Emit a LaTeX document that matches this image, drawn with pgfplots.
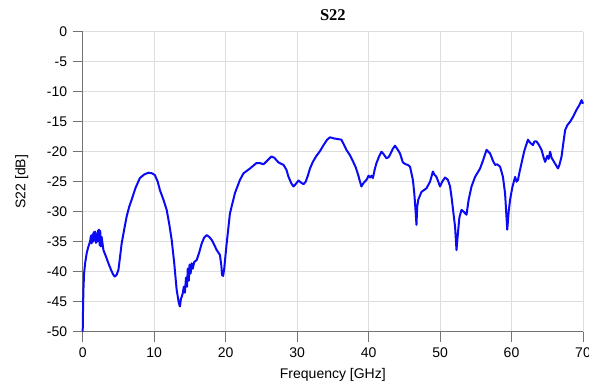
\documentclass[border=0pt]{standalone}
\usepackage{pgfplots}
\pgfplotsset{compat=1.18}
\usepackage{fontspec}
\setmainfont{Liberation Sans}
\newfontfamily\serifbf{Liberation Serif}
\begin{document}
\begin{tikzpicture}
\begin{axis}[
  at={(0,0)}, anchor=south west,
  scale only axis, width=500.3bp, height=300bp,
  xmin=0, xmax=70, ymin=-50, ymax=0,
  xtick distance=10, ytick distance=5,
  axis x line*=bottom, axis y line*=left,
  axis line style={draw=black!55, line width=0.8bp, -},
  tick align=outside, major tick length=10bp,
  tick style={draw=black!55, line width=0.8bp},
  grid=major, grid style={draw=black!13, line width=0.8bp},
  /pgf/number format/assume math mode=true,
  tick label style={font=\fontsize{14bp}{16bp}\selectfont, text=black},
  xticklabel style={yshift=-3bp},
  yticklabel style={/pgf/number format/fixed, xshift=-2bp},
  title={\serifbf\bfseries S22},
  title style={at={(axis description cs:0.5,1.037)}, anchor=center, font=\fontsize{16.5bp}{18bp}\selectfont},
  xlabel={Frequency [GHz]},
  ylabel={S22 [dB]},
  xlabel style={at={(axis description cs:0.5,-0.1443)}, anchor=center, font=\fontsize{14bp}{16bp}\selectfont},
  ylabel style={at={(axis description cs:-0.122,0.5)}, anchor=center, font=\fontsize{14bp}{16bp}\selectfont},
  clip=false,
]
\addplot[color={rgb,255:red,10;green,10;blue,245}, line width=2bp, line join=round] coordinates {
(0,-50) (0.05,-46) (0.1,-43) (0.19,-40.3) (0.35,-38.5) (0.56,-36.9) (0.8,-35.8) (1.03,-35.0)
(1.15,-34.0) (1.25,-35.3) (1.35,-33.8) (1.45,-35.0) (1.55,-33.4) (1.65,-34.8) (1.75,-33.3)
(1.85,-35.2) (1.95,-33.8) (2.05,-35.0) (2.15,-33.2) (2.28,-33.0) (2.38,-35.6) (2.45,-33.2)
(2.55,-35.8) (2.65,-34.2) (2.9,-36.4) (3.2,-37.3) (3.6,-38.6) (4.0,-39.8) (4.3,-40.55)
(4.5,-40.8) (4.75,-40.5) (5.0,-39.7) (5.2,-37.8) (5.45,-35.3) (5.8,-33) (6.15,-30.8)
(6.5,-29.2) (6.85,-28) (7.4,-26) (8.0,-24.4) (8.6,-23.8) (9.2,-23.5) (9.7,-23.6) (10.1,-23.9)
(10.5,-25.0) (10.8,-26.4) (11.3,-28) (11.75,-29.7) (12.1,-32) (12.45,-34.7) (12.8,-38.5)
(13.15,-43.05) (13.45,-45.2) (13.6,-45.8) (13.75,-44.5) (13.85,-44.2) (14.0,-43.6)
(14.15,-42.5) (14.3,-43.5) (14.45,-41) (14.6,-42.5) (14.7,-39.5) (14.85,-41.5) (14.95,-38.8)
(15.1,-40.3) (15.25,-38.6) (15.4,-39.5) (15.6,-38.4) (15.95,-38.05) (16.3,-36.8) (16.65,-35.3)
(17.0,-34.3) (17.35,-33.9) (17.7,-34.2) (18.05,-34.7) (18.4,-35.5) (18.75,-36.4) (19.2,-37.2)
(19.4,-39) (19.5,-40.55) (19.65,-40.7) (19.8,-39.5) (20.1,-35.8) (20.6,-30.3) (21.3,-26.9)
(22.0,-24.7) (22.5,-23.6) (23.4,-22.8) (24.3,-21.9) (24.8,-21.9) (25.3,-22.1) (25.9,-21.4)
(26.4,-20.8) (26.8,-21) (27.4,-21.8) (28.1,-22.2) (28.5,-23) (28.8,-24.2) (29.2,-25.3)
(29.5,-25.8) (29.8,-25.4) (30.2,-24.8) (30.6,-25.2) (30.9,-25.4) (31.2,-25.0) (31.5,-24)
(31.8,-22.8) (32.2,-21.7) (32.7,-20.7) (33.2,-19.9) (33.7,-18.9) (34.2,-18.0) (34.6,-17.6)
(35.2,-17.8) (35.75,-17.9) (36.2,-18.0) (36.5,-18.7) (36.9,-19.7) (37.4,-20.6) (37.85,-21.7)
(38.2,-22.6) (38.55,-23.9) (38.8,-25) (39.0,-25.8) (39.3,-25.2) (39.7,-24.7) (40.0,-24.0)
(40.2,-24.3) (40.4,-24.0) (40.6,-24.4) (40.85,-23) (41.1,-21.9) (41.5,-20.7) (41.8,-20.0)
(42.1,-20.4) (42.5,-21.1) (42.8,-20.9) (43.0,-20.5) (43.4,-19.5) (43.7,-19.0) (44.1,-19.7)
(44.4,-20.3) (44.8,-21.8) (45.2,-22.1) (45.5,-22.2) (45.8,-22.5) (46.0,-23.6) (46.2,-24.7)
(46.4,-27) (46.6,-30.3) (46.7,-32.2) (46.8,-29.2) (46.95,-28) (47.4,-26.7) (48.1,-26.1)
(48.6,-25.0) (49.0,-23.3) (49.2,-23.8) (49.5,-24.2) (50.0,-25.8) (50.3,-25.0) (50.7,-24.3)
(51.1,-24.7) (51.4,-25.8) (51.6,-27.5) (51.85,-30) (52.1,-32.5) (52.3,-36.4) (52.5,-33.6)
(52.7,-31) (53.0,-29.7) (53.3,-30) (53.7,-30.5) (54.0,-28) (54.4,-25.8) (54.9,-24.2)
(55.6,-22.8) (56.0,-21.5) (56.5,-19.7) (57.0,-20.3) (57.4,-21.5) (57.7,-22.2) (58.0,-22.1)
(58.4,-22.5) (58.8,-24.2) (59.1,-27) (59.4,-33) (59.6,-30) (59.8,-28) (60.1,-26) (60.5,-24.2)
(60.7,-25) (60.9,-24.7) (61.1,-23.5) (61.4,-21.9) (61.8,-19.8) (62.3,-18.0) (62.6,-18.5)
(63.0,-18.9) (63.2,-18.3) (63.5,-18.3) (63.8,-18.8) (64.2,-19.7) (64.5,-21) (64.7,-21.7)
(65.0,-20.7) (65.2,-21.2) (65.4,-20.0) (65.6,-21.0) (65.8,-21.4) (66.1,-22.0) (66.5,-22.8)
(66.7,-22.2) (67.0,-20.8) (67.2,-19) (67.5,-16.4) (67.8,-15.6) (68.2,-15.0) (68.6,-14.2)
(69.1,-13) (69.5,-12.2) (69.8,-11.4) (70,-12)
};
\end{axis}
\pgfresetboundingbox
\useasboundingbox (-82.7bp,-58.3bp) rectangle (506.3bp,331.7bp);
\end{tikzpicture}
\end{document}
